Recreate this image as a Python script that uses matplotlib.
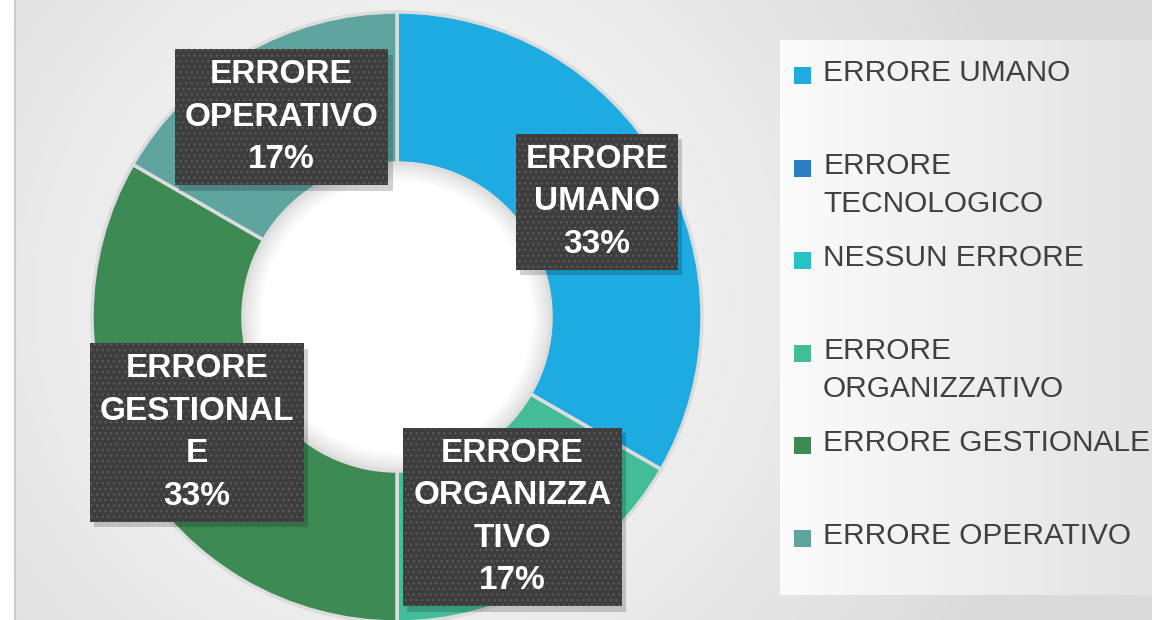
#!/usr/bin/env python3
"""Donut chart of error categories with boxed labels and a side legend."""

import numpy as np
import matplotlib.pyplot as plt
from matplotlib import patheffects as pe
from matplotlib.patches import Rectangle, Circle, Wedge

plt.rcParams['font.family'] = ['Liberation Sans', 'DejaVu Sans']

# data
categories = ["ERRORE UMANO", "ERRORE TECNOLOGICO", "NESSUN ERRORE",
              "ERRORE ORGANIZZATIVO", "ERRORE GESTIONALE", "ERRORE OPERATIVO"]
values = [2, 0, 0, 1, 2, 1]
colors = ["#1eabe2", "#2b7ec3", "#27c2c8", "#43bc98", "#3d8a55", "#60a4a0"]
legend_labels = ["ERRORE UMANO", "ERRORE\nTECNOLOGICO", "NESSUN ERRORE",
                 "ERRORE\nORGANIZZATIVO", "ERRORE GESTIONALE", "ERRORE OPERATIVO"]
slice_labels = ["ERRORE\nUMANO", "ERRORE\nTECNOLOGICO", "NESSUN\nERRORE",
                "ERRORE\nORGANIZZA\nTIVO", "ERRORE\nGESTIONAL\nE", "ERRORE\nOPERATIVO"]


class PlainShadow(pe.SimplePatchShadow):
    """Drop shadow that ignores the hatch of the patch it follows."""

    def draw_path(self, renderer, gc, tpath, affine, rgbFace):
        gc0 = renderer.new_gc()
        gc0.copy_properties(gc)
        gc0.set_hatch(None)
        super().draw_path(renderer, gc0, tpath, affine, rgbFace)


W, H = 1152, 620
fig = plt.figure(figsize=(W / 100, H / 100), dpi=100)

# background: soft radial gradient, white strip on the far left
bg = fig.add_axes([0, 0, 1, 1])
bg.set_axis_off()
yy, xx = np.mgrid[0:H, 0:W]
r = np.hypot(xx - 410, yy - 300)
shade = 0.985 - 0.13 * np.clip(r / 650, 0, 1) ** 1.2
shade[:, :14] = 1.0
bg.imshow(np.dstack([shade] * 3), extent=[0, W, H, 0], aspect='auto')
bg.axvline(14.5, color='#c6c6c6', lw=1.2)

# legend panel
panel = np.linspace(0.985, 0.89, 200)[None, :]
bg.imshow(np.dstack([panel] * 3), extent=[780, W, 595, 40], aspect='auto')
bg.set_xlim(0, W)
bg.set_ylim(H, 0)

slot_top, slot_step = 57, 92.6
for i, (lab, col) in enumerate(zip(legend_labels, colors)):
    top = slot_top + i * slot_step
    bg.add_patch(Rectangle((794, top + 10), 17, 17, color=col, lw=0))
    for j, line in enumerate(lab.split("\n")):
        bg.text(823, top + 24 + j * 38, line, fontsize=21.5, color='#404040',
                ha='left', va='baseline')

# donut
cx, cy, R = 397, 317, 305
hole = 0.505
ax = fig.add_axes([(cx - R) / W, (H - cy - R) / H, 2 * R / W, 2 * R / H])
ax.set_axis_off()
wedges, _ = ax.pie(values, colors=colors, startangle=90, counterclock=False,
                   radius=1,
                   wedgeprops=dict(width=1 - hole, edgecolor='#dcdcdc', linewidth=2.5))
ax.set_xlim(-1, 1)
ax.set_ylim(-1, 1)

# white hole with a faint inner shadow along the rim
ax.add_patch(Circle((0, 0), hole, color='white', lw=0, zorder=0.5))
for k in range(10):
    ax.add_patch(Wedge((0, 0), hole, 0, 360, width=0.006 * (k + 1),
                       color='black', alpha=0.012, lw=0, zorder=0.6))

# boxed data labels
total = sum(values)
for w, v, lab in zip(wedges, values, slice_labels):
    if v == 0:
        continue
    ang = np.deg2rad((w.theta1 + w.theta2) / 2)
    x, y = 0.757 * np.cos(ang), 0.757 * np.sin(ang)
    t = ax.text(x, y, f"{lab}\n{v / total:.0%}", ha='center', va='center',
                fontsize=24, fontweight='bold', color='white', linespacing=1.48,
                zorder=4,
                bbox=dict(boxstyle='square,pad=0.3', facecolor='#3d3d3d',
                          edgecolor='#595959', linewidth=0, hatch='...'))
    t.get_bbox_patch().set_path_effects(
        [PlainShadow(offset=(3, -4), shadow_rgbFace='black', alpha=0.18),
         pe.Normal()])

fig.savefig("out.png", dpi=100)
